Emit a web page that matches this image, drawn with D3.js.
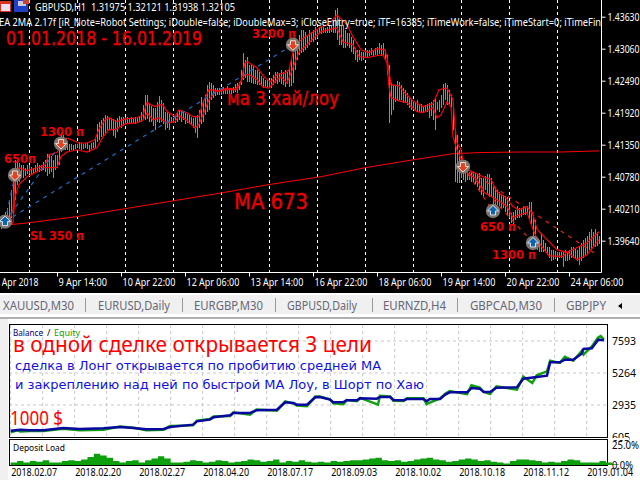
<!DOCTYPE html>
<html lang="ru">
<head>
  <meta charset="UTF-8">
  <title>GBPUSD,H1</title>
  <script src="https://cdn.jsdelivr.net/npm/d3@7"></script>
  <style>
    html, body { margin: 0; padding: 0; background: #fff; overflow: hidden; }
    svg { display: block; }
    text { font-family: "Noto Sans", sans-serif; }
    .price-axis text, .time-axis text { fill: #fff; font-size: 10.5px; }
    .price-axis line, .time-axis line { stroke: #fff; }
    .eq-axis text { fill: #000; font-size: 10.5px; }
    .eq-axis line { stroke: none; }
    .domain { display: none; }
  </style>
</head>
<body>
<div class="chart"></div>
<script>
  // price panel, one high and one low per H1 bar
  const highs = [
    1.4005,1.4010,1.4016,1.4023,1.4037,1.4055,1.4076,1.4108,1.4106,1.4103,
    1.4099,1.4099,1.4094,1.4098,1.4099,1.4096,1.4094,1.4098,1.4103,1.4098,
    1.4099,1.4105,1.4108,1.4119,1.4117,1.4114,1.4108,1.4117,1.4117,1.4126,
    1.4158,1.4153,1.4144,1.4138,1.4137,1.4137,1.4135,1.4137,1.4137,1.4140,
    1.4138,1.4137,1.4138,1.4140,1.4135,1.4138,1.4140,1.4147,1.4171,1.4176,
    1.4179,1.4183,1.4188,1.4187,1.4183,1.4183,1.4181,1.4179,1.4183,1.4187,
    1.4185,1.4185,1.4185,1.4185,1.4183,1.4185,1.4183,1.4185,1.4185,1.4187,
    1.4194,1.4206,1.4224,1.4224,1.4208,1.4204,1.4201,1.4201,1.4211,1.4222,
    1.4215,1.4210,1.4194,1.4194,1.4190,1.4185,1.4183,1.4185,1.4192,1.4197,
    1.4197,1.4194,1.4192,1.4190,1.4188,1.4185,1.4183,1.4187,1.4188,1.4197,
    1.4220,1.4215,1.4224,1.4242,1.4247,1.4245,1.4242,1.4236,1.4236,1.4236,
    1.4236,1.4238,1.4236,1.4240,1.4236,1.4236,1.4238,1.4243,1.4245,1.4247,
    1.4268,1.4299,1.4286,1.4292,1.4277,1.4277,1.4276,1.4268,1.4268,1.4265,
    1.4258,1.4254,1.4251,1.4251,1.4251,1.4254,1.4260,1.4265,1.4265,1.4263,
    1.4268,1.4265,1.4268,1.4265,1.4272,1.4286,1.4299,1.4304,1.4318,1.4331,
    1.4340,1.4340,1.4336,1.4331,1.4340,1.4336,1.4340,1.4345,1.4340,1.4345,
    1.4345,1.4345,1.4343,1.4345,1.4349,1.4349,1.4357,1.4375,1.4379,1.4357,
    1.4349,1.4349,1.4340,1.4334,1.4334,1.4327,1.4322,1.4308,1.4304,1.4304,
    1.4300,1.4300,1.4304,1.4304,1.4304,1.4308,1.4304,1.4308,1.4309,1.4316,
    1.4313,1.4316,1.4304,1.4295,1.4277,1.4245,1.4242,1.4242,1.4249,1.4247,
    1.4242,1.4236,1.4233,1.4227,1.4219,1.4215,1.4211,1.4211,1.4215,1.4208,
    1.4208,1.4204,1.4206,1.4208,1.4210,1.4211,1.4215,1.4219,1.4211,1.4215,
    1.4224,1.4243,1.4245,1.4242,1.4233,1.4224,1.4203,1.4162,1.4153,1.4126,
    1.4112,1.4099,1.4090,1.4087,1.4087,1.4087,1.4087,1.4085,1.4082,1.4085,
    1.4076,1.4076,1.4080,1.4083,1.4082,1.4076,1.4060,1.4060,1.4055,1.4051,
    1.4048,1.4046,1.4044,1.4041,1.4028,1.4014,1.4016,1.4019,1.4025,1.4023,
    1.4023,1.4025,1.4023,1.4026,1.4033,1.4033,1.4010,1.4001,1.3966,1.3966,
    1.3978,1.3966,1.3960,1.3953,1.3952,1.3948,1.3948,1.3946,1.3944,1.3944,
    1.3943,1.3943,1.3948,1.3944,1.3948,1.3952,1.3952,1.3950,1.3948,1.3952,
    1.3960,1.3966,1.3969,1.3973,1.3980,1.3985,1.3980,1.3984,1.3980,1.3973
  ];
  const lows = [
    1.3984,1.3987,1.3991,1.3991,1.3998,1.4005,1.4010,1.4037,1.4064,1.4069,
    1.4078,1.4076,1.4080,1.4083,1.4083,1.4083,1.4083,1.4085,1.4087,1.4087,
    1.4089,1.4090,1.4087,1.4080,1.4083,1.4087,1.4076,1.4090,1.4094,1.4099,
    1.4122,1.4126,1.4126,1.4126,1.4124,1.4126,1.4126,1.4128,1.4130,1.4128,
    1.4126,1.4128,1.4130,1.4128,1.4122,1.4128,1.4130,1.4130,1.4140,1.4144,
    1.4149,1.4151,1.4156,1.4162,1.4163,1.4162,1.4151,1.4147,1.4158,1.4167,
    1.4165,1.4169,1.4172,1.4172,1.4172,1.4174,1.4174,1.4172,1.4174,1.4176,
    1.4176,1.4179,1.4179,1.4181,1.4176,1.4176,1.4169,1.4162,1.4176,1.4174,
    1.4176,1.4171,1.4162,1.4165,1.4162,1.4174,1.4174,1.4174,1.4176,1.4179,
    1.4176,1.4179,1.4172,1.4174,1.4171,1.4172,1.4165,1.4156,1.4147,1.4165,
    1.4171,1.4176,1.4188,1.4194,1.4197,1.4215,1.4219,1.4222,1.4224,1.4224,
    1.4224,1.4226,1.4226,1.4226,1.4224,1.4226,1.4227,1.4229,1.4227,1.4233,
    1.4242,1.4251,1.4254,1.4247,1.4247,1.4245,1.4243,1.4243,1.4242,1.4242,
    1.4240,1.4236,1.4236,1.4238,1.4236,1.4236,1.4242,1.4245,1.4243,1.4247,
    1.4243,1.4242,1.4238,1.4243,1.4238,1.4240,1.4245,1.4268,1.4286,1.4295,
    1.4299,1.4300,1.4304,1.4308,1.4313,1.4318,1.4318,1.4322,1.4325,1.4332,
    1.4332,1.4334,1.4334,1.4334,1.4334,1.4336,1.4334,1.4334,1.4322,1.4313,
    1.4313,1.4308,1.4308,1.4311,1.4308,1.4300,1.4297,1.4286,1.4283,1.4286,
    1.4284,1.4286,1.4292,1.4292,1.4293,1.4295,1.4293,1.4295,1.4293,1.4297,
    1.4293,1.4295,1.4286,1.4260,1.4174,1.4188,1.4197,1.4211,1.4215,1.4215,
    1.4215,1.4210,1.4210,1.4206,1.4201,1.4197,1.4197,1.4197,1.4194,1.4194,
    1.4192,1.4192,1.4194,1.4194,1.4183,1.4187,1.4179,1.4162,1.4197,1.4194,
    1.4201,1.4206,1.4215,1.4206,1.4208,1.4201,1.4162,1.4069,1.4067,1.4067,
    1.4076,1.4073,1.4069,1.4073,1.4073,1.4069,1.4069,1.4065,1.4060,1.4055,
    1.4046,1.4042,1.4055,1.4046,1.4042,1.4044,1.4028,1.4028,1.4028,1.4025,
    1.4023,1.4023,1.4016,1.4010,1.4005,1.3996,1.3994,1.4001,1.4005,1.4005,
    1.4007,1.4009,1.4009,1.4009,1.4005,1.3993,1.3966,1.3966,1.3948,1.3944,
    1.3943,1.3943,1.3944,1.3939,1.3934,1.3927,1.3930,1.3932,1.3934,1.3934,
    1.3934,1.3918,1.3927,1.3927,1.3930,1.3934,1.3934,1.3932,1.3927,1.3921,
    1.3927,1.3934,1.3939,1.3941,1.3948,1.3948,1.3952,1.3952,1.3955,1.3959
  ];

  // moving averages, read at the bars where they turn
  const maHighBars = [2,4,6,7,9,13,18,22,24,28,31,33,39,43,47,49,52,54,58,62,68,71,73,77,79,81,83,87,89,93,96,99,101,104,109,113,118,120,122,123,128,132,135,138,142,144,146,148,152,158,160,164,168,173,176,180,184,188,192,193,194,195,199,202,206,211,216,219,223,226,227,228,230,231,234,241,245,248,252,256,259,263,266,268,273,278,283,288,293,299];
  const maHigh = [1.3993,1.3998,1.4019,1.4073,1.4094,1.4089,1.4094,1.4099,1.4117,1.4121,1.4140,1.4147,1.4138,1.4138,1.4144,1.4163,1.4179,1.4183,1.4176,1.4181,1.4183,1.4188,1.4210,1.4203,1.4206,1.4206,1.4194,1.4185,1.4197,1.4192,1.4185,1.4185,1.4210,1.4233,1.4231,1.4236,1.4233,1.4247,1.4281,1.4283,1.4272,1.4254,1.4247,1.4260,1.4263,1.4268,1.4299,1.4316,1.4327,1.4340,1.4345,1.4350,1.4366,1.4349,1.4327,1.4304,1.4299,1.4306,1.4304,1.4290,1.4265,1.4242,1.4240,1.4227,1.4213,1.4203,1.4208,1.4233,1.4236,1.4215,1.4167,1.4138,1.4126,1.4103,1.4090,1.4078,1.4073,1.4051,1.4042,1.4025,1.4019,1.4025,1.4010,1.3984,1.3966,1.3948,1.3943,1.3952,1.3960,1.3980];
  const maLowBars = [2,4,6,7,9,13,18,21,24,28,30,33,38,43,48,51,54,57,62,68,71,73,76,79,83,87,89,93,97,99,104,107,113,117,119,122,124,128,131,134,138,140,143,146,149,153,158,160,164,168,171,176,179,183,187,191,193,194,195,199,203,208,211,216,218,220,223,225,226,228,233,238,241,248,253,256,259,263,266,269,274,281,283,288,293,299];
  const maLow = [1.3987,1.3993,1.3996,1.4042,1.4064,1.4078,1.4087,1.4094,1.4094,1.4094,1.4114,1.4122,1.4126,1.4122,1.4130,1.4149,1.4162,1.4162,1.4172,1.4174,1.4179,1.4192,1.4179,1.4183,1.4174,1.4176,1.4187,1.4178,1.4165,1.4171,1.4215,1.4229,1.4233,1.4233,1.4242,1.4260,1.4260,1.4251,1.4238,1.4236,1.4251,1.4256,1.4245,1.4272,1.4300,1.4313,1.4331,1.4336,1.4340,1.4343,1.4318,1.4313,1.4292,1.4290,1.4293,1.4295,1.4281,1.4238,1.4219,1.4213,1.4210,1.4194,1.4192,1.4201,1.4183,1.4188,1.4211,1.4203,1.4149,1.4126,1.4085,1.4073,1.4051,1.4037,1.4025,1.4005,1.4010,1.4014,1.3984,1.3960,1.3937,1.3936,1.3944,1.3930,1.3939,1.3966];
  const ma673Bars = [0,14,38,62,86,110,134,160,182,206,226,240,260,280,299];
  const ma673 = [1.3991,1.3996,1.4007,1.4021,1.4035,1.4049,1.4064,1.4078,1.4094,1.4108,1.4119,1.4121,1.4122,1.4122,1.4124];

  // trades
  const longEntry = { bar: 2, price: 1.3998 };
  const longExitBars = [7, 30, 146];
  const longExitPrices = [1.4081, 1.4137, 1.4313];
  const shortEntry = { bar: 231, price: 1.4096 };
  const shortExitBars = [246, 266, 298];
  const shortExitPrices = [1.4017, 1.3960, 1.3939];

  // axes of the price panel
  const priceTicks = [1.4363, 1.4306, 1.4249, 1.4192, 1.4135, 1.4078, 1.4021, 1.3964];
  const gridBars = [14, 38, 62, 86, 110, 134, 158, 182, 206, 230, 254, 278];
  const timeTickBars = [-4, 28, 60, 92, 124, 156, 188, 220, 252, 284];
  const timeLabels = ['6 Apr 2018', '9 Apr 14:00', '10 Apr 22:00', '12 Apr 06:00', '13 Apr 14:00',
    '16 Apr 22:00', '18 Apr 06:00', '19 Apr 14:00', '20 Apr 22:00', '24 Apr 06:00'];

  // tester report
  const balanceTrades = [0,15,30,51,82,108,145,171,192,212,239,249,285,291,311,317,343,348,374,384,416,429,442,447,463,476,483,499,504,520,525,541,546,572,577,593,598,614,619,645,650,655,671,679,686,713,720,733,739,749,759,791,801,822,838,843,858,866,879,892,895,908,918,927];
  const balance = [1066,1139,1090,1090,1260,1187,1236,1333,1260,1163,1187,1333,1503,1746,1867,2037,2183,2352,2352,2547,2595,3129,3081,2959,2959,3493,3517,3323,3129,3153,3275,3275,3420,3396,3517,3517,3299,3275,3372,3372,3202,3372,3372,3687,3857,3857,4173,4124,3881,3881,4197,4221,4852,4973,5071,6041,6041,6236,6236,6672,7012,7061,7692,7643];
  const equityTrades = [0,10,15,30,51,82,108,145,171,192,212,239,249,285,291,311,317,343,348,374,384,416,429,442,447,463,476,483,499,504,520,525,541,546,574,577,593,598,614,619,645,650,655,671,679,686,713,720,733,739,749,759,791,801,815,822,838,843,858,866,879,892,895,908,918,922,927];
  const equity = [945,1100,1000,1040,1040,1200,1090,1140,1360,1280,1090,1130,1400,1450,1790,1920,2100,2130,2400,2230,2600,2520,3200,3040,2890,2850,3550,3560,3350,3050,3000,3300,3220,3450,2959,3600,3560,3250,3230,3420,3420,3000,3100,3420,3750,3950,3720,4367,4200,3900,3730,4300,4050,5000,4537,5100,5386,6150,6000,6450,6150,6850,6600,7200,7850,7950,7700];
  const depositLoad = [3,5,3,5,4,6,3,3,5,6,5,7,10,14,12,9,5,3,5,6,3,6,8,11,8,3,3,4,6,5,3,4,6,5,3,4,5,7,6,4,5,7,3,5,4,6,4,3,4,3,5,4,5,6,6,7,8,9,6,5,6,4,5,7,8,9,7,6,4,5,7,8,7,5,6,4,3,2,5,7,7,6,5,3,4,3,5,7,6,3,3,3,5,3,1,0];
  const equityTicks = [7593, 5264, 2935, 605];
  const loadTicks = [25, 0];
  const gridTrades = [0,50,100,150,200,250,300,350,400,450,500,550,600,650,700,750,800,850,900];
  const dateTrades = [0,100,200,300,400,500,600,700,800,900];
  const dateLabels = ['2018.02.07','2018.02.20','2018.02.27','2018.04.20','2018.07.17','2018.09.03','2018.10.02','2018.10.18','2018.11.12','2019.01.04'];

  const tabs = ['XAUUSD,M30', 'EURUSD,Daily', 'EURGBP,M30', 'GBPUSD,Daily', 'EURNZD,H4', 'GBPCAD,M30', 'GBPJPY'];
  const tabX = [3, 98, 194, 287, 383, 470, 566];
  const tabW = [71, 72, 69, 70, 63, 72, 40];
  const tabSeps = [85.5, 182.5, 275.5, 372.5, 457.5, 554.5];

  const svg = d3.select('.chart').append('svg').attr('width', 640).attr('height', 480);
  svg.append('rect').attr('width', 640).attr('height', 480).attr('fill', '#fff');

  // ---- price panel
  svg.append('rect').attr('width', 640).attr('height', 293).attr('fill', '#000');
  const xBar = d3.scaleLinear().domain([0, 299]).range([1, 599]);
  const yPrice = d3.scaleLinear().domain([1.4363, 1.3964]).range([16.7, 240.7]);

  const lineOf = (bars, vals) => d3.line().x(i => xBar(bars[i])).y(i => yPrice(vals[i]))(d3.range(bars.length));

  svg.selectAll('.grid').data(gridBars).enter().append('line').attr('class', 'grid')
    .attr('x1', d => xBar(d) + 0.5).attr('x2', d => xBar(d) + 0.5)
    .attr('y1', 0).attr('y2', 272)
    .attr('stroke', '#fff').attr('stroke-dasharray', '3 3');

  svg.append('path').attr('d', lineOf(ma673Bars, ma673))
    .attr('fill', 'none').attr('stroke', '#f00').attr('stroke-width', 1);

  svg.selectAll('.bar').data(highs).enter().append('line').attr('class', 'bar')
    .attr('x1', (d, i) => xBar(i) + 0.5).attr('x2', (d, i) => xBar(i) + 0.5)
    .attr('y1', d => yPrice(d)).attr('y2', (d, i) => yPrice(lows[i]))
    .attr('stroke', '#28d828').attr('stroke-width', 1).attr('shape-rendering', 'crispEdges');

  svg.append('path').attr('d', lineOf(maHighBars, maHigh))
    .attr('fill', 'none').attr('stroke', '#f00').attr('stroke-width', 1.2);
  svg.append('path').attr('d', lineOf(maLowBars, maLow))
    .attr('fill', 'none').attr('stroke', '#f00').attr('stroke-width', 1.2);

  // trade lines, entry to each exit
  longExitBars.forEach((b, i) => {
    svg.append('line')
      .attr('x1', xBar(longEntry.bar)).attr('y1', yPrice(longEntry.price))
      .attr('x2', xBar(b)).attr('y2', yPrice(longExitPrices[i]))
      .attr('stroke', '#1e6ec8').attr('stroke-width', 1.2).attr('stroke-dasharray', '4 5');
  });
  shortExitBars.forEach((b, i) => {
    svg.append('line')
      .attr('x1', xBar(shortEntry.bar)).attr('y1', yPrice(shortEntry.price))
      .attr('x2', xBar(b)).attr('y2', yPrice(shortExitPrices[i]))
      .attr('stroke', '#e82010').attr('stroke-width', 1.2).attr('stroke-dasharray', '4 5');
  });

  function marker(bar, price, up) {
    const g = svg.append('g').attr('transform', `translate(${xBar(bar)} ${yPrice(price)})`);
    g.append('circle').attr('r', 7.2).attr('fill', '#7d7570');
    const arrow = 'M0,-5.5L5.5,0H2.5V4H-2.5V0H-5.5Z';
    g.append('path').attr('d', arrow)
      .attr('transform', up ? null : 'rotate(180)')
      .attr('fill', up ? '#0a64b4' : '#e8401c')
      .attr('stroke', '#fff').attr('stroke-width', 0.8);
  }
  marker(longEntry.bar, longEntry.price, true);
  marker(7, 1.4081, false);
  marker(30, 1.4137, false);
  marker(146, 1.4313, false);
  marker(shortEntry.bar, shortEntry.price, false);
  marker(246, 1.4017, true);
  marker(266, 1.3960, true);

  // right and bottom axes
  svg.append('line').attr('x1', 601.5).attr('x2', 601.5).attr('y1', 0).attr('y2', 272.5).attr('stroke', '#fff');
  svg.append('line').attr('x1', 0).attr('x2', 601.5).attr('y1', 272.5).attr('y2', 272.5).attr('stroke', '#fff');

  svg.append('g').attr('class', 'price-axis').attr('transform', 'translate(601.5 0)')
    .call(d3.axisRight(yPrice).tickValues(priceTicks).tickSize(4).tickPadding(2).tickFormat(d3.format('.5f')))
    .selectAll('text').attr('textLength', 32).attr('lengthAdjust', 'spacingAndGlyphs');

  const timeAxis = svg.append('g').attr('class', 'time-axis').attr('transform', 'translate(0 272.5)')
    .call(d3.axisBottom(xBar).tickValues(timeTickBars).tickSize(4).tickFormat((d, i) => timeLabels[i]));
  timeAxis.selectAll('text').attr('text-anchor', 'start').attr('x', 1).attr('y', 6).attr('dy', '0.71em')
    .attr('textLength', (d, i) => timeLabels[i].length * 4.4).attr('lengthAdjust', 'spacingAndGlyphs');

  // header
  svg.append('rect').attr('x', 0).attr('y', 1).attr('width', 11).attr('height', 11).attr('fill', '#d83020');
  svg.append('rect').attr('x', 1).attr('y', 4).attr('width', 9).attr('height', 7).attr('fill', '#e8e0f0');
  svg.append('rect').attr('x', 14).attr('y', 0).attr('width', 14).attr('height', 12).attr('fill', '#2040c8');
  svg.append('rect').attr('x', 18).attr('y', 1).attr('width', 8).attr('height', 5).attr('fill', '#c8c8d8');
  svg.append('rect').attr('x', 23).attr('y', 0).attr('width', 6).attr('height', 4).attr('fill', '#d04030');

  function label(str, x, y, size, fill, len, weight, family) {
    const t = svg.append('text').attr('x', x).attr('y', y)
      .attr('font-size', size).attr('fill', fill).text(str);
    if (len) t.attr('textLength', len).attr('lengthAdjust', 'spacingAndGlyphs');
    if (weight) t.attr('font-weight', weight);
    if (family) t.style('font-family', family);
    return t;
  }

  label('GBPUSD,H1  1.31975 1.32121 1.31938 1.32105', 35, 11, 10.5, '#fff', 200).attr('xml:space', 'preserve');
  label('EA 2MA 2.17f [iR_Note=Robot Settings; iDouble=false; iDoubleMax=3; iCloseEntry=true; iTF=16385; iTimeWork=false; iTimeStart=0; iTimeFin', -1, 26, 10.5, '#fff', 602);

  const red = '#ec0000';
  const dejavu = '"DejaVu Sans", sans-serif';
  label('01.01.2018 - 16.01.2019', 6, 45, 20, red, 196, null, dejavu).attr('stroke', red).attr('stroke-width', 0.4);
  label('1300 п', 40, 136, 13, red, 44, 'bold', dejavu);
  label('3200 п', 252, 38, 13, red, 44, 'bold', dejavu);
  label('650п', 4, 163, 13, red, 32, 'bold', dejavu);
  label('SL 350 п', 30, 240, 13, red, 54, 'bold', dejavu);
  label('ма 3 хай/лоу', 227, 105, 20, red, 112, null, dejavu).attr('stroke', red).attr('stroke-width', 0.4);
  label('MA 673', 234, 209, 22, red, 74, null, dejavu).attr('stroke', red).attr('stroke-width', 0.4);
  label('650 п', 480, 231, 13, red, 36, 'bold', dejavu);
  label('1300 п', 492, 259, 13, red, 44, 'bold', dejavu);

  // ---- tabs
  svg.append('rect').attr('y', 295).attr('width', 640).attr('height', 19).attr('fill', '#f0f0f0');
  svg.append('rect').attr('y', 314).attr('width', 640).attr('height', 4).attr('fill', '#fff');
  svg.append('rect').attr('y', 317).attr('width', 640).attr('height', 2).attr('fill', '#b0b0b0');
  svg.selectAll('.tab').data(tabs).enter().append('text').attr('class', 'tab')
    .attr('x', (d, i) => tabX[i]).attr('y', 310)
    .attr('textLength', (d, i) => tabW[i]).attr('lengthAdjust', 'spacingAndGlyphs')
    .attr('font-size', 12).attr('fill', '#667').text(d => d);
  svg.selectAll('.tabsep').data(tabSeps).enter().append('line').attr('class', 'tabsep')
    .attr('x1', d => d).attr('x2', d => d).attr('y1', 298).attr('y2', 312).attr('stroke', '#999');
  svg.append('path').attr('d', 'M618,306l4,-3v6Z').attr('fill', '#000');

  // ---- balance panel
  svg.append('rect').attr('y', 319).attr('width', 8).attr('height', 161).attr('fill', '#f0f0f0');
  const xTrade = d3.scaleLinear().domain([0, 900]).range([10.67, 586.67]);
  const yEq = d3.scaleLinear().domain([605, 7593]).range([437, 341]);
  const yLoad = d3.scaleLinear().domain([0, 25]).range([465, 445]);

  svg.selectAll('.vgrid').data(gridTrades).enter().append('line').attr('class', 'vgrid')
    .attr('x1', d => xTrade(d)).attr('x2', d => xTrade(d)).attr('y1', 325).attr('y2', 437)
    .attr('stroke', '#c8c8c8').attr('stroke-dasharray', '3 3');
  svg.selectAll('.hgrid').data(equityTicks.slice(0, 3)).enter().append('line').attr('class', 'hgrid')
    .attr('x1', 9).attr('x2', 607).attr('y1', d => yEq(d)).attr('y2', d => yEq(d))
    .attr('stroke', '#c8c8c8').attr('stroke-dasharray', '3 3');

  const eqLine = (ns, vals) => d3.line().x(i => xTrade(ns[i])).y(i => yEq(vals[i]))(d3.range(ns.length));
  svg.append('path').attr('d', eqLine(equityTrades, equity))
    .attr('fill', 'none').attr('stroke', '#10a010').attr('stroke-width', 2.5);
  svg.append('path').attr('d', eqLine(balanceTrades, balance))
    .attr('fill', 'none').attr('stroke', '#0808a0').attr('stroke-width', 2.5);

  svg.append('rect').attr('x', 9.5).attr('y', 324.5).attr('width', 598).attr('height', 113)
    .attr('fill', 'none').attr('stroke', '#000');

  label('Balance', 13, 336, 9, '#000080', 30);
  label('/', 47, 336, 9, '#000');
  label('Equity', 54, 336, 9, '#10a010', 26);

  label('в одной сделке открывается 3 цели', 13, 352, 21, '#f00', 359);
  label('сделка в Лонг открывается по пробитию средней МА', 15, 370, 13, '#1010e0', 366, null, dejavu);
  label('и закреплению над ней по быстрой МА Лоу, в Шорт по Хаю', 15, 389, 13, '#1010e0', 409, null, dejavu);
  label('1000 $', 10, 425, 19, '#f00', 53);

  svg.append('g').attr('class', 'eq-axis').attr('transform', 'translate(612 0)')
    .call(d3.axisRight(yEq).tickValues(equityTicks).tickSize(0).tickPadding(0).tickFormat(d3.format('d')));

  // ---- deposit load
  svg.append('rect').attr('x', 9).attr('y', 438).attr('width', 620).attr('height', 2).attr('fill', '#fff');
  svg.append('rect').attr('x', 9.5).attr('y', 439.5).attr('width', 598).attr('height', 26)
    .attr('fill', '#fff').attr('stroke', '#000');
  const loadArea = d3.area().curve(d3.curveStepAfter)
    .x((d, i) => xTrade(i * 10)).y0(yLoad(0)).y1(d => yLoad(d));
  svg.append('path').attr('d', loadArea(depositLoad)).attr('fill', '#0ca00c');
  label('Deposit Load', 13, 451, 9, '#000', 52);

  svg.append('g').attr('class', 'eq-axis').attr('transform', 'translate(612 0)')
    .call(d3.axisRight(yLoad).tickValues(loadTicks).tickSize(0).tickPadding(0).tickFormat(d => d.toFixed(1) + '%'))
    .selectAll('text').attr('textLength', d => d ? 27 : 21).attr('lengthAdjust', 'spacingAndGlyphs');

  const dateAxis = svg.append('g').attr('class', 'eq-axis').attr('transform', 'translate(0 466)')
    .call(d3.axisBottom(xTrade).tickValues(dateTrades).tickSize(0).tickPadding(3).tickFormat((d, i) => dateLabels[i]));
  dateAxis.selectAll('text').attr('text-anchor', 'start').attr('textLength', 46).attr('lengthAdjust', 'spacingAndGlyphs');
</script>
</body>
</html>
